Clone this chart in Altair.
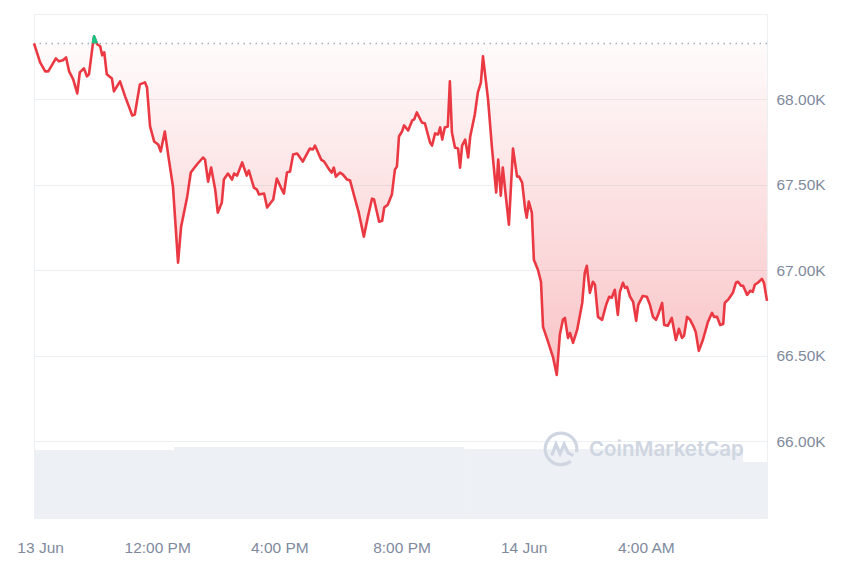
import altair as alt
import pandas as pd
import numpy as np

# minutes after 08:00 on 13 Jun
minutes = [0,12,22,28,43,49,57,63,69,77,
           85,90,98,104,108,116,118,124,130,134,
           138,143,153,157,169,179,193,198,208,218,
           222,228,236,244,249,257,265,273,283,289,
           301,308,320,332,336,342,348,356,361,369,
           373,381,389,393,399,409,418,422,432,438,
           442,452,458,470,477,485,491,497,503,509,
           517,528,542,548,552,564,570,580,585,589,
           593,601,607,615,621,631,638,648,656,664,
           668,678,684,688,695,703,709,713,717,723,
           727,735,743,747,752,762,768,778,782,788,
           794,798,802,807,813,817,821,827,833,837,
           841,847,853,857,866,872,878,882,892,900,
           908,912,917,921,927,933,941,949,953,959,
           965,968,972,978,982,990,996,1000,1010,1020,
           1027,1033,1039,1043,1049,1053,1059,1067,1077,1082,
           1086,1092,1098,1102,1108,1116,1124,1130,1135,1141,
           1147,1151,1157,1161,1165,1171,1177,1183,1187,1196,
           1204,1210,1216,1222,1226,1234,1238,1245,1253,1261,
           1267,1273,1277,1283,1289,1295,1300,1306,1314,1324,
           1332,1336,1342,1348,1354,1357,1365,1373,1379,1383,
           1389,1393,1401,1407,1412,1416,1422,1430,1434,1440]

prices = [68328,68217,68164,68164,68240,68223,68229,68246,68164,68117,
          68035,68158,68182,68135,68147,68334,68369,68323,68311,68258,
          68276,68147,68123,68047,68106,68018,67906,67912,68088,68100,
          68070,67842,67754,67736,67695,67812,67648,67490,67044,67255,
          67431,67572,67619,67660,67648,67519,67601,67472,67337,67396,
          67531,67566,67531,67566,67554,67631,67554,67584,67484,67472,
          67443,67449,67367,67414,67537,67484,67449,67572,67578,67677,
          67683,67636,67713,67707,67730,67648,67636,67589,67572,67601,
          67548,67572,67560,67531,67525,67414,67337,67197,67314,67419,
          67414,67284,67290,67367,67384,67443,67589,67607,67783,67812,
          67848,67818,67877,67883,67924,67865,67859,67748,67730,67801,
          67795,67836,67765,67836,67842,68106,67806,67718,67713,67601,
          67730,67765,67660,67783,67912,68041,68100,68252,68000,67707,
          67455,67648,67437,67601,67431,67267,67713,67548,67548,67513,
          67355,67308,67402,67337,67062,67003,66933,66669,66581,66487,
          66387,66622,66710,66721,66604,66633,66575,66651,66809,66985,
          67026,66868,66933,66915,66727,66710,66798,66845,66839,66886,
          66739,66874,66927,66897,66903,66845,66815,66704,66798,66850,
          66845,66798,66727,66710,66739,66809,66680,66675,66721,66592,
          66657,66604,66616,66727,66710,66675,66639,66528,66592,66698,
          66751,66727,66727,66680,66686,66809,66833,66868,66927,66933,
          66909,66909,66856,66880,66874,66915,66927,66950,66927,66821]

open_price = prices[0]

y_ticks = [66000, 66500, 67000, 67500, 68000]
# label positions (minutes after 08:00); the date label sits just inside the left edge
x_ticks = [12, 242, 482, 722, 962, 1202]
x_tick_labels = ["13 Jun", "12:00 PM", "4:00 PM", "8:00 PM", "14 Jun", "4:00 AM"]

# 24h volume (relative units) in steps
vol_start = [0, 275, 845, 1393]
vol_end = [275, 845, 1393, 1440]
vol_value = [27.0, 28.2, 27.4, 22.2]

RED = "#ea3943"
GREEN = "#16c784"
LABEL = "#808a9d"
GRID = "#edf0f3"
FONT = "Liberation Sans"

# series with crossing points at the open price
rows = []
for i in range(len(minutes)):
    if i > 0:
        p0, p1 = prices[i - 1], prices[i]
        if (p0 - open_price) * (p1 - open_price) < 0:
            t = (open_price - p0) / (p1 - p0)
            rows.append((minutes[i - 1] + t * (minutes[i] - minutes[i - 1]), float(open_price)))
    rows.append((float(minutes[i]), float(prices[i])))
df = pd.DataFrame(rows, columns=["t", "price"])
df["lo"] = np.minimum(df["price"], open_price)
df["base"] = float(open_price)

above = df["price"].values > open_price
idx, segs = [], []
sid = -1
prev = False
for j in range(len(df)):
    if above[j]:
        if not prev:
            sid += 1
            if j > 0:
                idx.append(j - 1); segs.append(sid)
        idx.append(j); segs.append(sid)
        prev = True
    else:
        if prev:
            idx.append(j); segs.append(sid)
        prev = False
green_df = df.iloc[idx].copy()
green_df["seg"] = segs

vol_df = pd.DataFrame({"start": vol_start, "end": vol_end, "vol": vol_value})

label_expr = " : ".join(
    [f"datum.value == {v} ? '{l}'" for v, l in zip(x_ticks, x_tick_labels)]
) + " : ''"

x_axis = alt.Axis(values=x_ticks, labelExpr=label_expr, grid=False, ticks=False,
                  tickSize=0, domain=False, labelPadding=22, labelFontSize=15.5,
                  labelColor=LABEL, labelFont=FONT, labelFlush=False, labelOverlap=False,
                  title=None)
x_scale = alt.Scale(domain=[0, 1440], nice=False, zero=False)

y_scale = alt.Scale(domain=[65550, 68500], nice=False, zero=False)
y_axis = alt.Axis(orient="right", values=y_ticks, labelExpr="format(datum.value / 1000, '.2f') + 'K'",
                  grid=True, gridColor=GRID, gridWidth=1, ticks=False, tickSize=0, domain=False,
                  labelPadding=9, labelFontSize=15.5, labelColor=LABEL, labelFont=FONT,
                  title=None)


def X(field):
    return alt.X(field, scale=x_scale, axis=x_axis)


def Y(field):
    return alt.Y(field, scale=y_scale, axis=y_axis)


volume = alt.Chart(vol_df).mark_rect(color="#edf0f4").encode(
    x=X("start:Q"), x2="end:Q",
    y=alt.Y("vol:Q", scale=alt.Scale(domain=[0, 200]), axis=None),
    y2=alt.datum(0),
)

red_fill = alt.Chart(df).mark_area(
    color=alt.Gradient(
        gradient="linear",
        stops=[alt.GradientStop(color="rgba(234,57,67,0.02)", offset=0),
               alt.GradientStop(color="rgba(234,57,67,0.30)", offset=1)],
        x1=1, x2=1, y1=0, y2=1,
    )
).encode(x=X("t:Q"), y=Y("lo:Q"), y2="base:Q")

green_fill = alt.Chart(green_df).mark_area(color=GREEN, opacity=0.9).encode(
    x=X("t:Q"), y=Y("price:Q"), y2="base:Q", detail="seg:N"
)

base_rule = alt.Chart(pd.DataFrame({"open": [open_price]})).mark_rule(
    color="#a6adbb", strokeDash=[1.5, 4.5], strokeWidth=1.5
).encode(y=Y("open:Q"))

red_line = alt.Chart(df).mark_line(color=RED, strokeWidth=2.6, strokeJoin="round").encode(
    x=X("t:Q"), y=Y("price:Q")
)

green_line = alt.Chart(green_df).mark_line(color=GREEN, strokeWidth=2.6, strokeJoin="round").encode(
    x=X("t:Q"), y=Y("price:Q"), detail="seg:N"
)

price_layers = alt.layer(red_fill, green_fill, base_rule, red_line, green_line)

wm_color = "#cfd6e1"
logo_path = ("M 0.62 0.78 A 1 1 0 1 1 0.98 0.2 "
             "M -0.58 0.4 L -0.32 -0.3 L -0.06 0.3 L 0.2 -0.3 L 0.45 0.25 L 0.78 0.42")
logo = alt.Chart(pd.DataFrame({"k": [0]})).mark_point(
    shape=logo_path, filled=False, stroke=wm_color, strokeWidth=3.2, size=1000, opacity=1
).encode(x=alt.value(527), y=alt.value(435))
wm_text = alt.Chart(pd.DataFrame({"label": ["CoinMarketCap"]})).mark_text(
    align="left", baseline="middle", font="Inter", fontSize=20.5, fontWeight=600, color=wm_color
).encode(x=alt.value(555), y=alt.value(436), text="label:N")

chart = alt.layer(volume, price_layers, logo, wm_text).resolve_scale(
    y="independent"
).properties(
    width=733, height=504,
    autosize=alt.AutoSizeParams(type="none"),
    padding={"left": 26, "top": 6, "right": 80, "bottom": 45},
    background="white",
).configure_view(stroke=GRID, strokeWidth=1)

chart.save("out.html", embed_options={"renderer": "svg", "actions": False})
